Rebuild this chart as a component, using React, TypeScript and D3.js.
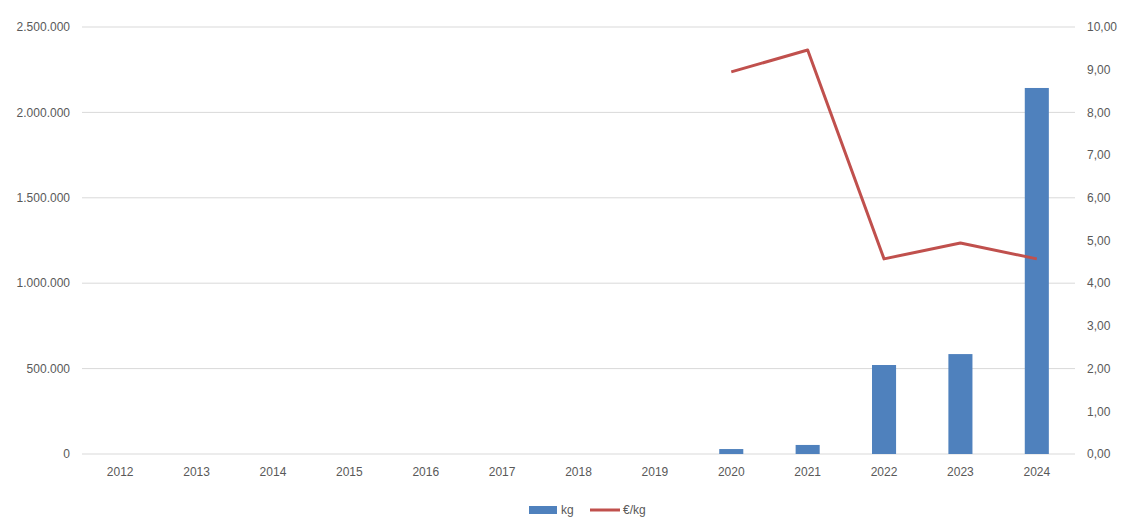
import React from "react";
import * as d3 from "d3";

const years = ["2012","2013","2014","2015","2016","2017","2018","2019","2020","2021","2022","2023","2024"];
const kg: (number | null)[] = [null,null,null,null,null,null,null,null,29000,53000,521000,585000,2143000];
const eurPerKg: (number | null)[] = [null,null,null,null,null,null,null,null,8.95,9.46,4.57,4.94,4.57];
const leftTicks = [0,500000,1000000,1500000,2000000,2500000];
const rightTicks = [0,1,2,3,4,5,6,7,8,9,10];

const W = 1135, H = 532;
const left = 82, right = 1075, top = 27, bottom = 454;
const font = "'Liberation Sans', Arial, sans-serif";

export default function App() {
  const x = d3.scaleBand().domain(years).range([left, right]).paddingInner(0.685).paddingOuter(0.3425);
  const xc = d3.scalePoint().domain(years).range([left, right]).padding(0.5);
  const yL = d3.scaleLinear().domain([0, 2500000]).range([bottom, top]);
  const yR = d3.scaleLinear().domain([0, 10]).range([bottom, top]);
  const fmtL = (v: number) => d3.format(",")(v).replace(/,/g, ".");
  const fmtR = (v: number) => v.toFixed(2).replace(".", ",");
  const line = d3.line<number | null>()
    .defined(d => d != null)
    .x((_, i) => xc(years[i])!)
    .y(d => yR(d as number));
  return (
    <svg width={W} height={H} style={{ display: "block", position: "absolute", left: 0, top: 0, background: "#fff" }} fontFamily={font}>
      {leftTicks.map(t => (
        <line key={t} x1={left} x2={right} y1={yL(t)} y2={yL(t)} stroke="#d9d9d9" strokeWidth={1} />
      ))}
      {kg.map((v, i) => v == null ? null : (
        <rect key={i} x={x(years[i])} y={yL(v)} width={x.bandwidth()} height={bottom - yL(v)} fill="#4f81bd" />
      ))}
      <path d={line(eurPerKg) || ""} fill="none" stroke="#c0504d" strokeWidth={3} strokeLinejoin="round" />
      {leftTicks.map(t => (
        <text key={t} x={70} y={yL(t)} dy="0.35em" textAnchor="end" fontSize={12} fill="#595959">{fmtL(t)}</text>
      ))}
      {rightTicks.map(t => (
        <text key={t} x={1087} y={yR(t)} dy="0.35em" textAnchor="start" fontSize={12} fill="#595959">{fmtR(t)}</text>
      ))}
      {years.map(yv => (
        <text key={yv} x={xc(yv)} y={472} dy="0.35em" textAnchor="middle" fontSize={12} fill="#595959">{yv}</text>
      ))}
      <rect x={529} y={506} width={28} height={8} fill="#4f81bd" />
      <text x={561} y={510} dy="0.35em" fontSize={12} fill="#595959">kg</text>
      <line x1={590} x2={620} y1={510} y2={510} stroke="#c0504d" strokeWidth={3} />
      <text x={623} y={510} dy="0.35em" fontSize={12} fill="#595959">€/kg</text>
    </svg>
  );
}
